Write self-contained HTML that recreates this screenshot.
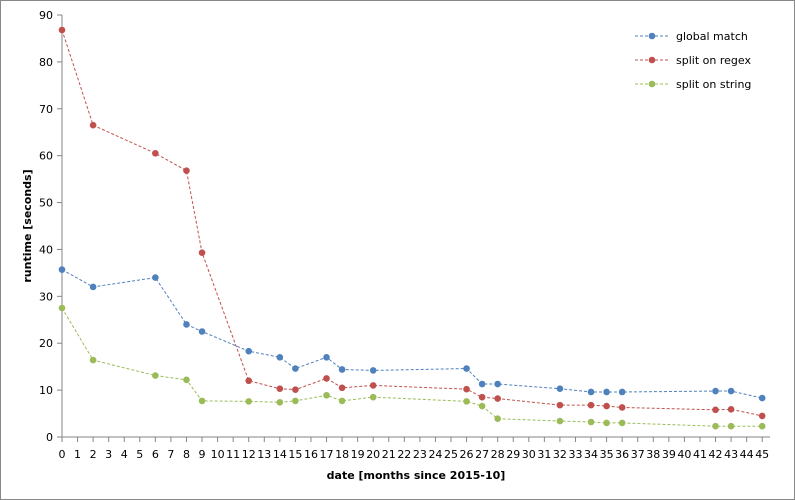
<!DOCTYPE html>
<html><head><meta charset="utf-8"><style>
html,body{margin:0;padding:0;background:#fff}
svg{display:block;font-family:"DejaVu Sans",Verdana,sans-serif}
</style></head><body>
<svg id="chart" width="795" height="500">
<rect x="0.5" y="0.5" width="794" height="499" fill="#fff" stroke="#888"/>
<g id="axes"></g><g id="series"></g>
<g font-size="11" fill="#000">
<g><line x1="635" y1="36" x2="670" y2="36" stroke="#4f81bd" stroke-dasharray="3,2"/><circle cx="652" cy="36" r="3.3" fill="#4f81bd"/><text x="676" y="40">global match</text></g>
<g><line x1="635" y1="60" x2="670" y2="60" stroke="#c0504d" stroke-dasharray="3,2"/><circle cx="652" cy="60" r="3.3" fill="#c0504d"/><text x="676" y="64">split on regex</text></g>
<g><line x1="635" y1="84" x2="670" y2="84" stroke="#9bbb59" stroke-dasharray="3,2"/><circle cx="652" cy="84" r="3.3" fill="#9bbb59"/><text x="676" y="88">split on string</text></g>
</g>
<text x="416" y="479" font-size="11" font-weight="bold" text-anchor="middle">date [months since 2015-10]</text>
<text transform="translate(31,226) rotate(-90)" font-size="11" font-weight="bold" text-anchor="middle">runtime [seconds]</text>
</svg>
<script>
const months = [0,2,6,8,9,12,14,15,17,18,20,26,27,28,32,34,35,36,42,43,45];
const globalMatch = [35.7,32,34,24,22.5,18.3,17,14.6,17,14.4,14.2,14.6,11.3,11.3,10.3,9.6,9.6,9.6,9.8,9.8,8.3];
const splitRegex = [86.8,66.5,60.5,56.8,39.3,12,10.3,10.1,12.5,10.5,11,10.2,8.5,8.2,6.8,6.8,6.6,6.3,5.8,5.9,4.5];
const splitString = [27.5,16.4,13.1,12.2,7.7,7.6,7.4,7.7,8.9,7.7,8.5,7.6,6.6,3.9,3.4,3.2,3.0,3.0,2.3,2.3,2.3];
const yTicks = [0,10,20,30,40,50,60,70,80,90];
const xCount = 46;
const NS='http://www.w3.org/2000/svg';
const x0=62,xStep=15.56,yBottom=437,yTop=15,yMax=90;
const X=i=>x0+i*xStep, Y=v=>yBottom-(v/yMax)*(yBottom-yTop);
function mk(t,a,p){const e=document.createElementNS(NS,t);for(const k in a)e.setAttribute(k,a[k]);p.appendChild(e);return e;}
const axes=document.getElementById('axes');
const ya=mk('line',{x1:x0,y1:yTop,x2:x0,y2:yBottom,stroke:'#868686'},axes);


const xa=mk('line',{x1:x0,y1:yBottom,x2:770,y2:yBottom,stroke:'#868686'},axes);


yTicks.forEach(v=>{
  mk('line',{x1:x0-5,y1:Y(v),x2:x0,y2:Y(v),stroke:'#868686'},axes);
  const t=mk('text',{x:x0-9,y:Y(v)+4,'font-size':11,'text-anchor':'end'},axes);
  t.textContent=v;
  
  
});
for(let i=0;i<xCount;i++){
  mk('line',{x1:X(i),y1:yBottom,x2:X(i),y2:yBottom+5,stroke:'#868686'},axes);
  const t=mk('text',{x:X(i),y:yBottom+21,'font-size':11,'text-anchor':'middle'},axes);
  t.textContent=i;
  
  
}
const sg=document.getElementById('series');
[[globalMatch,'#4f81bd','global-match'],[splitRegex,'#c0504d','split-on-regex'],[splitString,'#9bbb59','split-on-string']].forEach(([vals,c,n])=>{
  const g=mk('g',{},sg);
  
  
  const pl=mk('polyline',{points:vals.map((v,i)=>X(months[i])+','+Y(v)).join(' '),fill:'none',stroke:c,'stroke-width':1,'stroke-dasharray':'3,2'},g);
  
  
  vals.forEach((v,i)=>{
    const p=mk('circle',{cx:X(months[i]),cy:Y(v),r:3.3,fill:c},g);
    
    
  });
});
</script>
</body></html>
